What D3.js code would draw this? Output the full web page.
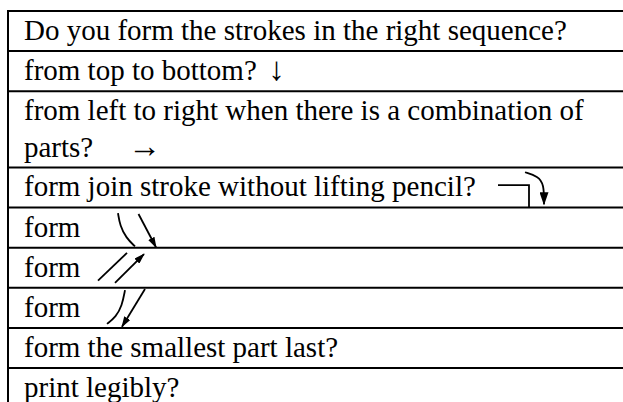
<!DOCTYPE html>
<html>
<head>
<meta charset="utf-8">
<script src="https://cdn.jsdelivr.net/npm/d3@7"></script>
<style>
  html, body { margin: 0; padding: 0; background: #fff; }
  svg { display: block; }
</style>
</head>
<body>
<div id="table"></div>
<script>
// table content: one entry per row, text lines of each cell
const rowLines = [
	["Do you form the strokes in the right sequence?"],
	["from top to bottom?"],
	["from left to right when there is a combination of", "parts?"],
	["form join stroke without lifting pencil?"],
	["form"],
	["form"],
	["form"],
	["form the smallest part last?"],
	["print legibly?"]
];
// arrow character written after the last line of a row
const rowArrowChar = ["", "\u2193", "\u2192", "", "", "", "", "", ""];
// hand drawn stroke picture in the row
const rowStroke = [null, null, null, "join", "fall", "rise", "sweep", null, null];

const W = 623, H = 402;
const tableLeft = 8, tableTop = 11, tableBottomRow = 368;

const svg = d3.select("#table")
	.append("svg")
	.attr("width", W)
	.attr("height", H);

const defs = svg.append("defs");
[["head", 11, 7], ["bighead", 13, 9]].forEach(m => {
	defs.append("marker")
		.attr("id", m[0])
		.attr("viewBox", "0 0 " + m[1] + " " + m[2])
		.attr("refX", m[1] - 1)
		.attr("refY", m[2] / 2)
		.attr("markerUnits", "userSpaceOnUse")
		.attr("markerWidth", m[1])
		.attr("markerHeight", m[2])
		.attr("orient", "auto")
		.append("path")
		.attr("d", "M0,0 L" + m[1] + "," + (m[2] / 2) + " L0," + m[2] + " Z")
		.attr("fill", "#000");
});

// row heights: a two line cell is a bit less than two single cells
const span = d3.scaleLinear().domain([1, 2]).range([1, 1.9]);
let acc = 0;
const rows = rowLines.map((lines, i) => {
	const r = {i: i, lines: lines, start: acc, end: acc + span(lines.length)};
	acc = r.end;
	return r;
});
const y = d3.scaleLinear()
	.domain([0, rows[rows.length - 2].end])
	.range([tableTop, tableBottomRow]);

// horizontal rules
svg.selectAll(".rule")
	.data(rows)
	.enter().append("line")
	.attr("class", "rule")
	.attr("x1", tableLeft - 1)
	.attr("x2", W + 5)
	.attr("y1", d => y(d.start))
	.attr("y2", d => y(d.start))
	.attr("stroke", "#000")
	.attr("stroke-width", 2);

// left border
svg.append("line")
	.attr("x1", tableLeft)
	.attr("x2", tableLeft)
	.attr("y1", y(0) - 1)
	.attr("y2", H + 5)
	.attr("stroke", "#000")
	.attr("stroke-width", 2);

// cell text
const lineStep = 37, firstBase = 29, textX = 24;
const cells = svg.selectAll(".cell")
	.data(rows)
	.enter().append("g")
	.attr("class", "cell");

cells.selectAll("text")
	.data(d => d.lines.map((t, k) => ({t: t, k: k, row: d})))
	.enter().append("text")
	.attr("x", textX)
	.attr("y", d => y(d.row.start) + firstBase + d.k * lineStep)
	.attr("font-family", "'Liberation Serif', 'Times New Roman', serif")
	.attr("font-size", 29)
	.attr("fill", "#000")
	.each(function(d) {
		const t = d3.select(this);
		t.append("tspan").text(d.t);
		const arrow = rowArrowChar[d.row.i];
		if (arrow && d.k === d.row.lines.length - 1) {
			t.append("tspan")
				.attr("dx", d.row.i === 1 ? "0.35em" : "1.05em")
				.attr("font-size", 33)
				.text(arrow);
		}
	});

// stroke pictures, x in px from page left, y as share of the row height
const strokeShapes = {
	join: [
		{pts: [[498, 0.44], [529, 0.44], [529, 1]], curve: d3.curveLinear, head: null},
		{pts: [[525, 0.12], [538, 0.22], [544, 0.42], [544, 0.92]], curve: d3.curveBasis, head: "bighead"}
	],
	fall: [
		{pts: [[118, 0.14], [120, 0.45], [126, 0.75], [135, 0.97]], curve: d3.curveBasis, head: null},
		{pts: [[138.5, 0.16], [156, 0.99]], curve: d3.curveLinear, head: "head"}
	],
	rise: [
		{pts: [[98, 0.82], [127, 0.13]], curve: d3.curveLinear, head: null},
		{pts: [[115, 0.88], [144, 0.16]], curve: d3.curveLinear, head: "head"}
	],
	sweep: [
		{pts: [[125, 0.06], [122, 0.45], [116, 0.72], [107, 0.9]], curve: d3.curveBasis, head: null},
		{pts: [[145, 0.03], [122, 0.97]], curve: d3.curveLinear, head: "head"}
	]
};

rows.filter(d => rowStroke[d.i]).forEach(d => {
	const top = y(d.start), h = y(d.end) - y(d.start);
	strokeShapes[rowStroke[d.i]].forEach(s => {
		const line = d3.line()
			.x(p => p[0])
			.y(p => top + p[1] * h)
			.curve(s.curve);
		svg.append("path")
			.attr("d", line(s.pts))
			.attr("fill", "none")
			.attr("stroke", "#000")
			.attr("stroke-width", 1.8)
			.attr("marker-end", s.head ? "url(#" + s.head + ")" : null);
	});
});
</script>
</body>
</html>
